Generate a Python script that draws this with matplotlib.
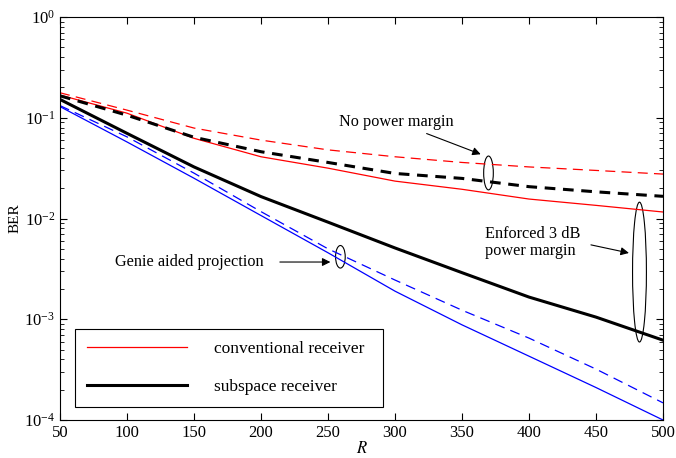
import numpy as np
import matplotlib
matplotlib.use('Agg')
import matplotlib.pyplot as plt
from matplotlib.patches import Ellipse

plt.rcParams['font.family'] = ['Liberation Serif', 'DejaVu Serif']
plt.rcParams['mathtext.fontset'] = 'stix'

# data
R = [50, 100, 150, 200, 250, 300, 350, 400, 450, 500]
conv_margin = [0.168, 0.111, 0.0625, 0.041, 0.0316, 0.0235, 0.0195, 0.0156, 0.0135, 0.0116]
conv_nomargin = [0.177, 0.119, 0.079, 0.060, 0.048, 0.041, 0.036, 0.0325, 0.030, 0.0276]
sub_margin = [0.152, 0.070, 0.0325, 0.0165, 0.0092, 0.0051, 0.0029, 0.00166, 0.00105, 0.00062]
sub_nomargin = [0.165, 0.106, 0.064, 0.046, 0.036, 0.028, 0.025, 0.0207, 0.0184, 0.0166]
genie_solid = [0.129, 0.0575, 0.0251, 0.0107, 0.00457, 0.0019, 0.00088, 0.00043, 0.00021, 0.0001]
genie_dashed = [0.132, 0.0646, 0.0282, 0.0117, 0.0050, 0.00245, 0.00123, 0.00065, 0.00032, 0.000148]

fig = plt.figure(figsize=(6.76, 4.58), dpi=100)
ax = fig.add_axes([60/676, 38/458, 603/676, 403/458])

ax.semilogy(R, conv_margin, color='red', lw=0.9, label='conventional receiver')
ax.semilogy(R, conv_nomargin, color='red', lw=0.9, ls=(0, (8, 5)))
ax.semilogy(R, sub_margin, color='black', lw=2.2, label='subspace receiver')
ax.semilogy(R, sub_nomargin, color='black', lw=2.2, ls=(0, (3.5, 2.5)))
ax.semilogy(R, genie_solid, color='blue', lw=0.9)
ax.semilogy(R, genie_dashed, color='blue', lw=0.9, ls=(0, (8, 5)))

ax.set_xlim(50, 500)
ax.set_ylim(1e-4, 1)
ax.set_xticks(np.arange(50, 501, 50))
ax.tick_params(which='both', direction='in', top=True, right=True, labelsize=12)
ax.tick_params(which='major', length=5)
ax.tick_params(which='minor', length=3)
ax.set_xlabel('$R$', fontsize=12, labelpad=0)
ax.set_ylabel('BER', fontsize=11, labelpad=2)

leg = ax.legend(loc='lower left', bbox_to_anchor=(0.025, 0.032, 0.511, 0.191), mode='expand',
                borderaxespad=0, fontsize=12.5, handlelength=5.75, handletextpad=1.55,
                labelspacing=1.25, borderpad=0.7, fancybox=False, edgecolor='black',
                framealpha=1)
leg.get_frame().set_linewidth(0.8)

# annotations (ellipses in axes fraction)
ell_kw = dict(transform=ax.transAxes, fill=False, edgecolor='black', lw=0.8)
ax.add_patch(Ellipse((0.7106, 0.613), 0.016, 0.084, **ell_kw))
ax.add_patch(Ellipse((0.465, 0.405), 0.016, 0.056, **ell_kw))
ax.add_patch(Ellipse((0.961, 0.367), 0.023, 0.347, **ell_kw))

arr = dict(arrowstyle='-|>', color='black', lw=0.8, mutation_scale=12)
ax.annotate('No power margin', xy=(0.702, 0.657), xytext=(0.652, 0.74),
            xycoords='axes fraction', textcoords='axes fraction',
            fontsize=11.7, ha='right', va='center', arrowprops=arr)
ax.annotate('', xy=(0.453, 0.392), xytext=(0.36, 0.392),
            xycoords='axes fraction', textcoords='axes fraction', arrowprops=arr)
ax.text(0.091, 0.392, 'Genie aided projection', transform=ax.transAxes,
        fontsize=11.7, ha='left', va='center')
ax.annotate('', xy=(0.948, 0.413), xytext=(0.876, 0.436),
            xycoords='axes fraction', textcoords='axes fraction', arrowprops=arr)
ax.text(0.705, 0.44, 'Enforced 3 dB\npower margin', transform=ax.transAxes,
        fontsize=11.7, ha='left', va='center', linespacing=1.1)

plt.savefig('out.png', dpi=100, facecolor='white')
plt.close()
